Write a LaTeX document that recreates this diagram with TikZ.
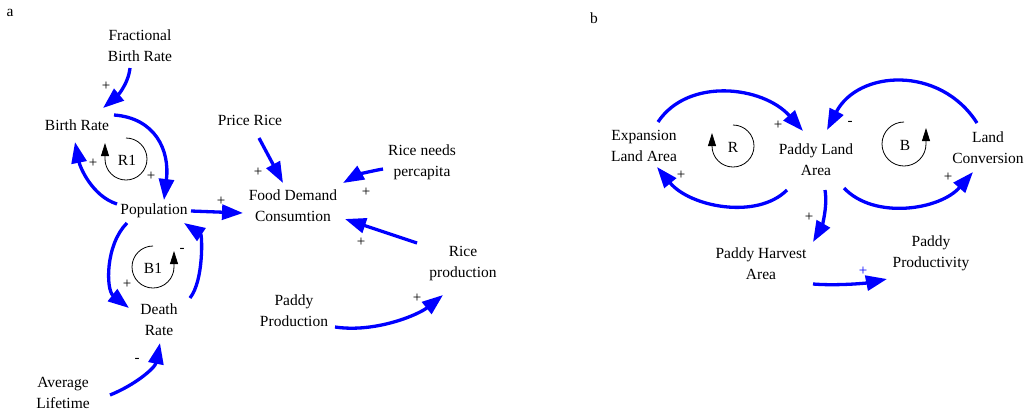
\documentclass[tikz,border=0pt]{standalone}
\usepackage{fontspec}
\setmainfont{Liberation Serif}
\usetikzlibrary{arrows.meta}
\tikzset{
  var/.style={align=center, inner sep=0pt, font=\fontsize{15.5}{21}\selectfont},
  sgn/.style={inner sep=0pt, font=\fontsize{15}{15}\selectfont},
  link/.style={draw=blue, line width=3.3pt, -{Triangle[length=21pt,width=15pt]}},
  loopar/.style={draw=black, line width=0.8pt, -{Triangle[length=13pt,width=8pt]}}
}
\begin{document}
\begin{tikzpicture}[x=1pt,y=-1pt]
\useasboundingbox (0,0) rectangle (1031,413);
% panel a
\node[var] (pa) at (10,13) {a};
\node[var] (fbr) at (140,46) {Fractional\\Birth Rate};
\node[var] (br) at (77,125) {Birth Rate};
\node[var] (pop) at (154,211) {Population};
\node[var] (dr) at (159,320) {Death\\Rate};
\node[var] (al) at (63,393) {Average\\Lifetime};
\node[var] (pr) at (250,120) {Price Rice};
\node[var] (fdc) at (293,206) {Food Demand\\Consumtion};
\node[var] (rnp) at (422,162) {Rice needs\\percapita};
\node[var] (rp) at (463,264) {Rice\\production};
\node[var] (pp) at (294,311) {Paddy\\Production};
\node[var] (r1) at (127,160) {R1};
\node[var] (b1) at (153,268) {B1};

\draw[link] ([shift={(-10,22)}]fbr.center) .. controls +(-2,18) and +(12,-10) .. ([shift={(26,-17)}]br.center);
\draw[link] ([shift={(37,-10)}]br.center) .. controls +(41,3) and +(6,-50) .. ([shift={(10,-11)}]pop.center);
\draw[link] ([shift={(-37,-7)}]pop.center) .. controls +(-25,-8) and +(5,25) .. ([shift={(-2,17)}]br.center);
\draw[link] ([shift={(37,0)}]pop.center) -- ([shift={(-50,7)}]fdc.center);
\draw[link] ([shift={(-27,12)}]pop.center) .. controls +(-22,22) and +(-23,-18) .. ([shift={(-30,-12)}]dr.center);
\draw[link] ([shift={(31,-22)}]dr.center) .. controls +(14,-18) and +(18,12) .. ([shift={(30,12)}]pop.center);
\draw[link] ([shift={(47,2)}]al.center) .. controls +(25,-10) and +(-5,25) .. ([shift={(1,23)}]dr.center);
\draw[link] ([shift={(9,18)}]pr.center) -- ([shift={(-10,-23)}]fdc.center);
\draw[link] ([shift={(-39,7)}]rnp.center) .. controls +(-12,2) and +(14,-8) .. ([shift={(50,-23)}]fdc.center);
\draw[link] ([shift={(-46,-21)}]rp.center) -- ([shift={(52,13)}]fdc.center);
\draw[link] ([shift={(41,16)}]pp.center) .. controls +(40,6) and +(-25,20) .. ([shift={(-20,31)}]rp.center);

\draw[loopar] ([shift={(-1,-22)}]r1.center) arc[start angle=-90, end angle=180, radius=21] -- ++(0,-16);
\draw[loopar] ([shift={(0,-22)}]b1.center) arc[start angle=-90, end angle=-360, radius=21] -- ++(0,-16);

\node[sgn] (s1) at (106,86) {+};
\node[sgn] (s2) at (93,163) {+};
\node[sgn] (s3) at (151,176) {+};
\node[sgn] (s4) at (221,201) {+};
\node[sgn] (s5) at (127,284) {+};
\node[sgn] (s6) at (182,250) {-};
\node[sgn] (s7) at (137,360) {-};
\node[sgn] (s8) at (258,172) {+};
\node[sgn] (s9) at (366,192) {+};
\node[sgn] (s10) at (361,242) {+};
\node[sgn] (s11) at (417,298) {+};

% panel b
\node[var] (pb) at (594,18) {b};
\node[var] (ela) at (644,146) {Expansion\\Land Area};
\node[var] (pla) at (816,160) {Paddy Land\\Area};
\node[var] (lc) at (988,148) {Land\\Conversion};
\node[var] (pha) at (761,264) {Paddy Harvest\\Area};
\node[var] (ppr) at (931,253) {Paddy\\Productivity};
\node[var] (rr) at (733,147) {R};
\node[var] (bb) at (905,145) {B};

\draw[link] ([shift={(14,-24)}]ela.center) .. controls +(30,-45) and +(-40,-45) .. ([shift={(-13,-29)}]pla.center);
\draw[link] ([shift={(-29,30)}]pla.center) .. controls +(-30,30) and +(33,40) .. ([shift={(13,21)}]ela.center);
\draw[link] ([shift={(-11,-25)}]lc.center) .. controls +(-37,-58) and +(31,-60) .. ([shift={(11,-30)}]pla.center);
\draw[link] ([shift={(28,28)}]pla.center) .. controls +(30,32) and +(-33,38) .. ([shift={(-15,24)}]lc.center);
\draw[link] ([shift={(9,30)}]pla.center) .. controls +(3,18) and +(8,-14) .. ([shift={(52,-22)}]pha.center);
\draw[link] ([shift={(52,20)}]pha.center) .. controls +(25,2) and +(-20,4) .. ([shift={(-44,26)}]ppr.center);

\draw[loopar] ([shift={(0,-22)}]rr.center) arc[start angle=-90, end angle=180, radius=21] -- ++(0,-13);
\draw[loopar] ([shift={(-1,-23)}]bb.center) arc[start angle=-90, end angle=-360, radius=22] -- ++(0,-16);

\node[sgn] (s12) at (778,125) {+};
\node[sgn] (s13) at (681,175) {+};
\node[sgn] (s14) at (850,123) {-};
\node[sgn] (s15) at (948,177) {+};
\node[sgn] (s16) at (809,217) {+};
\node[sgn, text=blue] (s17) at (863,271) {+};
\end{tikzpicture}
\end{document}
